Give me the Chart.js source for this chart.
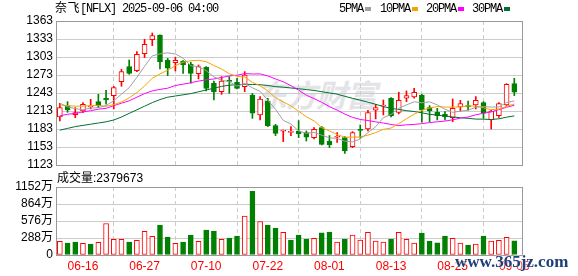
<!DOCTYPE html>
<html lang="zh">
<head>
<meta charset="UTF-8">
<title>奈飞[NFLX] 日K</title>
<script src="https://cdn.jsdelivr.net/npm/chart.js"></script>
<style>
  body { margin: 0; background: #fff; width: 578px; height: 276px; overflow: hidden; position: relative; }
  canvas { position: absolute; left: 0; }
  .mono { position: absolute; font-family: "Liberation Mono", "Noto Sans CJK SC", monospace; font-size: 12px; letter-spacing: -1.2px; line-height: 14px; color: #000; white-space: nowrap; }
  .mono .cjk { letter-spacing: 0.5px; }
  .sans { position: absolute; font-family: "Liberation Sans", "Noto Sans CJK SC", sans-serif; font-size: 12px; line-height: 14px; color: #000; white-space: nowrap; }
  .mark { position: absolute; width: 6px; height: 4px; }
  #wm { position: absolute; left: 256px; top: 71px; font: bold 31px "Noto Sans CJK SC"; color: #e3e3e8; font-style: italic; letter-spacing: -1px; }
  #site { position: absolute; left: 455px; top: 252px; font: bold 17px "Liberation Serif", serif; color: #1e3f7a; text-shadow: 0 0 2px #fff, 0 0 2px #fff; white-space: nowrap; }
</style>
</head>
<body>
<div id="wm">东方财富</div>
<canvas id="k" width="578" height="180" style="top:0"></canvas>
<canvas id="v" width="578" height="110" style="top:166px"></canvas>
<div class="mono" style="left:55px;top:2px"><span class="cjk">奈飞</span>[NFLX] 2025-09-06 04:00</div>
<div class="sans" style="left:57px;top:171px">成交量:2379673</div>
<div id="legend"></div>
<div id="site">www.365jz.com</div>

<script>
const dates = ['06-11','06-12','06-13','06-16','06-17','06-18','06-20','06-23','06-24','06-25',
  '06-26','06-27','06-30','07-01','07-02','07-03','07-07','07-08','07-09','07-10',
  '07-11','07-14','07-15','07-16','07-17','07-18','07-21','07-22','07-23','07-24',
  '07-25','07-28','07-29','07-30','07-31','08-01','08-04','08-05','08-06','08-07',
  '08-08','08-11','08-12','08-13','08-14','08-15','08-18','08-19','08-20','08-21',
  '08-22','08-25','08-26','08-27','08-28','08-29','09-02','09-03','09-04','09-05'];

const open = [1203.1,1221.4,1206.9,1213.0,1219.7,1228.6,1234.2,1238.6,1262.0,1287.0,
  1280.3,1308.6,1332.0,1339.7,1297.5,1293.6,1296.4,1290.8,1275.3,1285.8,
  1259.2,1245.3,1264.2,1260.8,1253.6,1239.7,1206.4,1229.7,1188.6,1179.2,
  1177.5,1179.7,1177.0,1168.6,1185.3,1163.0,1169.2,1168.6,1153.6,1182.0,
  1183.0,1214.2,1221.4,1234.2,1210.8,1234.2,1236.4,1239.7,1218.6,1210.8,
  1207.5,1202.0,1219.7,1221.9,1223.0,1227.0,1198.0,1205.3,1223.0,1258.6];
const high = [1225.8,1228.6,1218.6,1227.0,1232.5,1240.8,1247.5,1254.2,1282.5,1298.0,
  1312.0,1332.5,1343.0,1340.0,1300.8,1302.5,1297.0,1294.2,1289.7,1287.0,
  1263.0,1270.3,1270.3,1267.5,1278.6,1242.5,1237.0,1234.2,1190.8,1181.4,
  1187.0,1197.0,1179.7,1185.3,1187.0,1172.0,1177.0,1170.3,1178.6,1189.7,
  1214.0,1224.2,1231.4,1235.3,1244.2,1246.4,1250.8,1240.8,1222.0,1217.5,
  1212.0,1233.0,1230.8,1229.7,1237.0,1228.6,1214.7,1227.0,1258.6,1267.5];
const low = [1196.4,1210.8,1202.0,1210.3,1216.4,1218.6,1224.2,1216.4,1254.2,1274.2,
  1278.6,1302.0,1322.0,1283.0,1272.0,1279.7,1275.8,1259.2,1266.4,1246.4,
  1231.4,1240.8,1242.5,1249.7,1245.3,1200.8,1198.0,1187.0,1172.0,1162.0,
  1172.0,1168.6,1163.0,1166.4,1156.4,1152.0,1160.8,1142.5,1152.0,1167.5,
  1179.7,1199.7,1206.4,1203.0,1208.1,1228.6,1234.2,1194.2,1195.3,1198.0,
  1198.0,1195.3,1213.0,1214.2,1216.4,1200.8,1183.0,1202.5,1222.0,1238.6];
const close = [1218.6,1214.7,1210.3,1224.2,1221.4,1221.9,1231.4,1252.0,1278.6,1275.8,
  1307.5,1324.2,1338.6,1295.3,1284.2,1297.5,1289.7,1275.8,1287.0,1250.8,
  1245.3,1263.0,1262.5,1250.8,1273.0,1209.2,1233.0,1188.6,1175.8,1180.3,
  1179.0,1175.3,1169.2,1182.5,1157.5,1157.0,1170.3,1146.4,1177.0,1180.8,
  1210.3,1218.6,1222.5,1205.3,1230.8,1238.6,1244.2,1214.7,1213.0,1205.3,
  1203.0,1217.5,1225.3,1219.7,1230.8,1209.2,1213.0,1225.3,1257.5,1244.2];

const ma5 = [1226,1220,1217,1215,1217.8,1218.5,1221.8,1230.2,1241.1,1251.9,
  1269.1,1287.6,1304.9,1308.3,1310,1308,1301.1,1288.5,1286.8,1280.2,
  1269.7,1264.4,1261.7,1254.5,1258.9,1251.7,1245.7,1230.9,1215.9,1197.4,
  1191.3,1179.8,1175.9,1177.3,1172.7,1168.3,1167.3,1162.7,1161.6,1166.3,
  1177,1186.6,1201.8,1207.5,1217.5,1223.2,1228.3,1226.7,1228.3,1223.2,
  1216,1210.7,1212.8,1214.2,1219.3,1220.5,1219.6,1219.6,1227.2,1229.8];
const ma10 = [1223,1222,1221,1221,1222,1222.3,1220.9,1223.6,1228,1234.9,
  1243.8,1254.7,1267.6,1274.7,1281,1288.6,1294.4,1296.7,1297.6,1295.1,
  1288.9,1282.8,1275.1,1270.7,1269.6,1260.7,1255.1,1246.3,1235.2,1228.2,
  1221.5,1212.8,1203.4,1196.6,1185.1,1179.9,1173.6,1169.4,1169.5,1169.6,
  1172.7,1177,1182.3,1184.6,1192,1200.1,1207.5,1214.3,1217.9,1220.4,
  1219.6,1219.5,1219.8,1221.3,1221.3,1218.3,1215.2,1216.2,1220.7,1224.6];
const ma20 = [1205,1207.5,1209,1211.5,1213.5,1216,1217.5,1222,1226,1230,
  1236,1242,1246.5,1249,1251,1255.5,1257.7,1260.2,1262.8,1265,
  1266.4,1268.8,1271.4,1272.7,1275.3,1274.7,1274.8,1271.5,1266.4,1261.7,
  1255.2,1247.8,1239.3,1233.7,1227.4,1220.3,1214.4,1207.9,1202.4,1198.9,
  1197.1,1194.9,1192.9,1190.6,1188.6,1190,1190.6,1191.9,1193.7,1195,
  1196.2,1198.3,1201.1,1203,1206.7,1209.2,1211.4,1215.3,1219.3,1222.5];
const ma30 = [1181,1184,1187,1189,1191,1193,1195,1198,1203,1209,
  1215,1221,1227,1232,1236,1238,1240,1242,1245,1248,
  1251,1254,1256,1257,1257.5,1257.2,1256.8,1255.5,1253.6,1252.7,
  1251.4,1250.1,1248.7,1247.3,1245.2,1243.1,1241,1237.5,1234.1,1231,
  1227.7,1224.2,1220.3,1217.3,1215.6,1213.6,1212.1,1210,1207.5,1206.1,
  1204.6,1203.1,1201.8,1200.8,1199.5,1199.4,1198.8,1200,1202.7,1204.9];

// 成交量, 单位: 万
const volume = [231,202,219,197,186,214,534,264,264,219,
  248,399,315,506,304,197,219,338,231,422,
  405,264,287,321,658,1080,568,506,456,383,
  253,338,270,281,377,388,219,270,338,253,
  383,236,219,270,383,264,202,371,236,208,
  321,281,202,169,186,321,236,248,298,238];

const priceTicks = [1123,1153,1183,1213,1243,1273,1303,1333,1363];
const volTicks = [0,288,576,864,1152];
const maNames = ['5PMA','10PMA','20PMA','30PMA'];

const RED = '#ff0000', GREEN = '#008000', GRID = '#cccccc';
const maColors = ['#a0a0a0','#f5a500','#ff00ff','#007030'];
const xMin = -0.5, xMax = 60;
const labelIdx = dates.map((d, i) => i).filter(i => i % 8 === 3);

Chart.defaults.font.family = '"Liberation Sans", "Noto Sans CJK SC", sans-serif';
Chart.defaults.font.size = 12;
Chart.defaults.color = '#000';

const frame = {
  id: 'frame',
  afterDraw(chart) {
    const a = chart.chartArea, c = chart.ctx;
    c.save();
    c.strokeStyle = '#999';
    c.lineWidth = 1;
    c.strokeRect(a.left + 0.5, a.top + 0.5, a.right - a.left, a.bottom - a.top);
    c.restore();
  }
};

const up = dates.map((d, i) => close[i] >= open[i]);
const volUp = dates.map((d, i) => i === 0 || close[i] >= close[i - 1]);

function xScale(showLabels) {
  return {
    type: 'linear', min: xMin, max: xMax, offset: false,
    afterBuildTicks: s => { s.ticks = labelIdx.map(v => ({ value: v })); },
    afterFit: s => { s.height = showLabels ? 21 : 0; },
    ticks: { display: showLabels, color: RED, padding: 4, maxRotation: 0, autoSkip: false,
      callback: v => dates[v] },
    grid: { color: GRID, drawTicks: false },
    border: { display: false, dash: [4, 3] }
  };
}

function yScale(min, max, ticks, fmt) {
  return {
    min: min, max: max,
    afterBuildTicks: s => { s.ticks = ticks.map(v => ({ value: v })); },
    afterFit: s => { s.width = 56; },
    ticks: { padding: 3, color: '#000', autoSkip: false, callback: fmt },
    grid: { color: GRID, drawTicks: false },
    border: { display: false }
  };
}

const maSets = [ma5, ma10, ma20, ma30].map((arr, k) => ({
  type: 'line', label: maNames[k],
  data: arr.map((v, i) => ({ x: i, y: v })),
  borderColor: maColors[k], borderWidth: 1, pointRadius: 0, tension: 0, order: 0
}));

new Chart(document.getElementById('k'), {
  type: 'bar',
  data: {
    datasets: [
      ...maSets,
      {
        label: 'body',
        data: dates.map((d, i) => ({ x: i, y: [open[i], close[i]] })),
        backgroundColor: up.map(u => u ? '#fff' : GREEN),
        borderColor: up.map(u => u ? RED : GREEN),
        borderWidth: 1, borderSkipped: false, barThickness: 5, minBarLength: 1,
        grouped: false, order: 1
      },
      {
        label: 'wick',
        data: dates.map((d, i) => ({ x: i, y: [low[i], high[i]] })),
        backgroundColor: up.map(u => u ? RED : GREEN),
        borderWidth: 0, barThickness: 1, grouped: false, order: 2
      }
    ]
  },
  options: {
    responsive: false, animation: false, events: [],
    layout: { padding: { left: 0, right: 56, top: 21, bottom: 15 } },
    plugins: { legend: { display: false }, tooltip: { enabled: false } },
    scales: {
      x: xScale(false),
      y: yScale(1123, 1363, priceTicks, v => String(v))
    }
  },
  plugins: [frame]
});

new Chart(document.getElementById('v'), {
  type: 'bar',
  data: {
    datasets: [{
      label: '成交量',
      data: volume.map((v, i) => ({ x: i, y: v })),
      backgroundColor: volUp.map(u => u ? '#fff' : GREEN),
      borderColor: volUp.map(u => u ? RED : GREEN),
      borderWidth: 1, borderSkipped: false, barThickness: 5, grouped: false
    }]
  },
  options: {
    responsive: false, animation: false, events: [],
    layout: { padding: { left: 0, right: 56, top: 21, bottom: 0 } },
    plugins: { legend: { display: false }, tooltip: { enabled: false } },
    scales: {
      x: xScale(true),
      y: yScale(0, 1152, volTicks, v => v ? v + '万' : '0')
    }
  },
  plugins: [frame]
});

// legend
const legendLeft = [339, 380, 426, 472];
const lg = document.getElementById('legend');
maNames.forEach((name, k) => {
  const t = document.createElement('div');
  t.className = 'mono';
  t.style.left = legendLeft[k] + 'px';
  t.style.top = '2px';
  t.textContent = name;
  lg.appendChild(t);
  const m = document.createElement('div');
  m.className = 'mark';
  m.style.left = (legendLeft[k] + name.length * 6 + 2) + 'px';
  m.style.top = '7px';
  m.style.background = maColors[k];
  lg.appendChild(m);
});
</script>
</body>
</html>
